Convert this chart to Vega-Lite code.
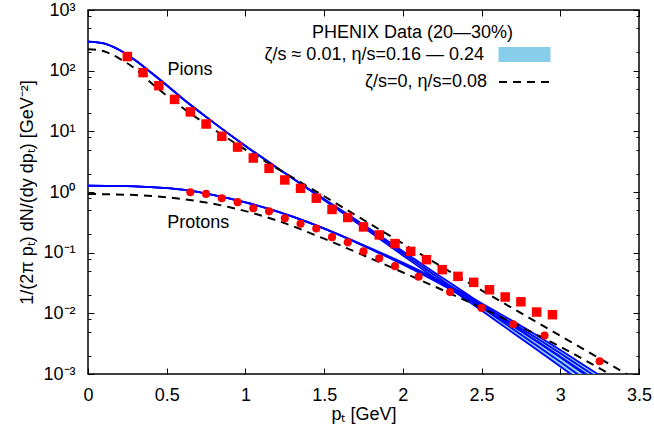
{
  "$schema": "https://vega.github.io/schema/vega-lite/v6.json",
  "width": 551,
  "height": 364,
  "autosize": {"type": "none"},
  "padding": {"left": 88, "top": 10, "right": 15, "bottom": 61},
  "background": "white",
  "datasets": {
    "band": [
      {"species": "Pions", "pT": 0.0, "lo": 302, "mid": 302, "hi": 302},
      {"species": "Pions", "pT": 0.1, "lo": 282, "mid": 282, "hi": 282},
      {"species": "Pions", "pT": 0.2, "lo": 219, "mid": 219, "hi": 219},
      {"species": "Pions", "pT": 0.3, "lo": 148, "mid": 148, "hi": 148},
      {"species": "Pions", "pT": 0.4, "lo": 93.3, "mid": 93.3, "hi": 93.3},
      {"species": "Pions", "pT": 0.5, "lo": 57.5, "mid": 57.5, "hi": 57.5},
      {"species": "Pions", "pT": 0.6, "lo": 34.7, "mid": 34.7, "hi": 34.7},
      {"species": "Pions", "pT": 0.8, "lo": 13.8, "mid": 13.8, "hi": 13.8},
      {"species": "Pions", "pT": 1.0, "lo": 5.75, "mid": 5.75, "hi": 5.75},
      {"species": "Pions", "pT": 1.2, "lo": 2.51, "mid": 2.51, "hi": 2.51},
      {"species": "Pions", "pT": 1.4, "lo": 1.109, "mid": 1.122, "hi": 1.135},
      {"species": "Pions", "pT": 1.6, "lo": 0.4842, "mid": 0.5012, "hi": 0.5188},
      {"species": "Pions", "pT": 1.8, "lo": 0.2113, "mid": 0.2239, "hi": 0.2371},
      {"species": "Pions", "pT": 2.0, "lo": 0.09016, "mid": 0.09772, "hi": 0.1059},
      {"species": "Pions", "pT": 2.2, "lo": 0.03864, "mid": 0.04266, "hi": 0.0471},
      {"species": "Pions", "pT": 2.4, "lo": 0.01698, "mid": 0.01905, "hi": 0.02138},
      {"species": "Pions", "pT": 2.6, "lo": 0.007278, "mid": 0.008318, "hi": 0.009506},
      {"species": "Pions", "pT": 2.8, "lo": 0.003119, "mid": 0.003631, "hi": 0.004227},
      {"species": "Pions", "pT": 3.0, "lo": 0.001334, "mid": 0.001585, "hi": 0.001884},
      {"species": "Pions", "pT": 3.2, "lo": 0.000556, "mid": 0.000676, "hi": 0.000822},
      {"species": "Protons", "pT": 0.0, "lo": 1.274, "mid": 1.274, "hi": 1.274},
      {"species": "Protons", "pT": 0.2, "lo": 1.259, "mid": 1.259, "hi": 1.259},
      {"species": "Protons", "pT": 0.4, "lo": 1.202, "mid": 1.202, "hi": 1.202},
      {"species": "Protons", "pT": 0.6, "lo": 1.096, "mid": 1.096, "hi": 1.096},
      {"species": "Protons", "pT": 0.8, "lo": 0.891, "mid": 0.891, "hi": 0.891},
      {"species": "Protons", "pT": 1.0, "lo": 0.676, "mid": 0.676, "hi": 0.676},
      {"species": "Protons", "pT": 1.2, "lo": 0.479, "mid": 0.479, "hi": 0.479},
      {"species": "Protons", "pT": 1.4, "lo": 0.316, "mid": 0.316, "hi": 0.316},
      {"species": "Protons", "pT": 1.6, "lo": 0.195, "mid": 0.195, "hi": 0.195},
      {"species": "Protons", "pT": 1.8, "lo": 0.1127, "mid": 0.1148, "hi": 0.1169},
      {"species": "Protons", "pT": 2.0, "lo": 0.0638, "mid": 0.0661, "hi": 0.0684},
      {"species": "Protons", "pT": 2.2, "lo": 0.0345, "mid": 0.0363, "hi": 0.0382},
      {"species": "Protons", "pT": 2.4, "lo": 0.01778, "mid": 0.01905, "hi": 0.02042},
      {"species": "Protons", "pT": 2.6, "lo": 0.00875, "mid": 0.00955, "hi": 0.01042},
      {"species": "Protons", "pT": 2.8, "lo": 0.00421, "mid": 0.00468, "hi": 0.0052},
      {"species": "Protons", "pT": 3.0, "lo": 0.00193, "mid": 0.00219, "hi": 0.00248},
      {"species": "Protons", "pT": 3.2, "lo": 0.000865, "mid": 0.001, "hi": 0.001156},
      {"species": "Protons", "pT": 3.4, "lo": 0.00038, "mid": 0.000447, "hi": 0.000525}
    ],
    "ideal": [
      {"species": "Pions", "pT": 0.0, "v": 226.5},
      {"species": "Pions", "pT": 0.1, "v": 208.9},
      {"species": "Pions", "pT": 0.2, "v": 158.5},
      {"species": "Pions", "pT": 0.3, "v": 107.2},
      {"species": "Pions", "pT": 0.4, "v": 63.1},
      {"species": "Pions", "pT": 0.6, "v": 24.5},
      {"species": "Pions", "pT": 0.8, "v": 10.72},
      {"species": "Pions", "pT": 1.0, "v": 5.01},
      {"species": "Pions", "pT": 1.2, "v": 2.455},
      {"species": "Pions", "pT": 1.5, "v": 0.851},
      {"species": "Pions", "pT": 2.0, "v": 0.1413},
      {"species": "Pions", "pT": 2.5, "v": 0.02399},
      {"species": "Pions", "pT": 3.0, "v": 0.004266},
      {"species": "Pions", "pT": 3.5, "v": 0.000759},
      {"species": "Protons", "pT": 0.0, "v": 0.927},
      {"species": "Protons", "pT": 0.3, "v": 0.891},
      {"species": "Protons", "pT": 0.6, "v": 0.767},
      {"species": "Protons", "pT": 0.9, "v": 0.562},
      {"species": "Protons", "pT": 1.2, "v": 0.339},
      {"species": "Protons", "pT": 1.5, "v": 0.170},
      {"species": "Protons", "pT": 1.8, "v": 0.0794},
      {"species": "Protons", "pT": 2.1, "v": 0.0363},
      {"species": "Protons", "pT": 2.4, "v": 0.0162},
      {"species": "Protons", "pT": 2.7, "v": 0.00692},
      {"species": "Protons", "pT": 3.0, "v": 0.00282},
      {"species": "Protons", "pT": 3.3, "v": 0.001047},
      {"species": "Protons", "pT": 3.5, "v": 0.000537}
    ],
    "phenix": [
      {"species": "Pions", "pT": 0.25, "v": 171},
      {"species": "Pions", "pT": 0.35, "v": 93},
      {"species": "Pions", "pT": 0.45, "v": 56.6},
      {"species": "Pions", "pT": 0.55, "v": 33.6},
      {"species": "Pions", "pT": 0.65, "v": 20.9},
      {"species": "Pions", "pT": 0.75, "v": 13.2},
      {"species": "Pions", "pT": 0.85, "v": 8.3},
      {"species": "Pions", "pT": 0.95, "v": 5.5},
      {"species": "Pions", "pT": 1.05, "v": 3.63},
      {"species": "Pions", "pT": 1.15, "v": 2.45},
      {"species": "Pions", "pT": 1.25, "v": 1.58},
      {"species": "Pions", "pT": 1.35, "v": 1.15},
      {"species": "Pions", "pT": 1.45, "v": 0.79},
      {"species": "Pions", "pT": 1.55, "v": 0.516},
      {"species": "Pions", "pT": 1.65, "v": 0.38},
      {"species": "Pions", "pT": 1.75, "v": 0.266},
      {"species": "Pions", "pT": 1.85, "v": 0.196},
      {"species": "Pions", "pT": 1.95, "v": 0.141},
      {"species": "Pions", "pT": 2.05, "v": 0.105},
      {"species": "Pions", "pT": 2.15, "v": 0.0766},
      {"species": "Pions", "pT": 2.25, "v": 0.0525},
      {"species": "Pions", "pT": 2.35, "v": 0.0407},
      {"species": "Pions", "pT": 2.45, "v": 0.0324},
      {"species": "Pions", "pT": 2.55, "v": 0.0245},
      {"species": "Pions", "pT": 2.65, "v": 0.0186},
      {"species": "Pions", "pT": 2.75, "v": 0.0155},
      {"species": "Pions", "pT": 2.85, "v": 0.0105},
      {"species": "Pions", "pT": 2.95, "v": 0.0095},
      {"species": "Protons", "pT": 0.65, "v": 0.99},
      {"species": "Protons", "pT": 0.75, "v": 0.93},
      {"species": "Protons", "pT": 0.85, "v": 0.79},
      {"species": "Protons", "pT": 0.95, "v": 0.68},
      {"species": "Protons", "pT": 1.05, "v": 0.54},
      {"species": "Protons", "pT": 1.15, "v": 0.48},
      {"species": "Protons", "pT": 1.25, "v": 0.37},
      {"species": "Protons", "pT": 1.35, "v": 0.30},
      {"species": "Protons", "pT": 1.45, "v": 0.25},
      {"species": "Protons", "pT": 1.55, "v": 0.18},
      {"species": "Protons", "pT": 1.65, "v": 0.148},
      {"species": "Protons", "pT": 1.75, "v": 0.105},
      {"species": "Protons", "pT": 1.85, "v": 0.081},
      {"species": "Protons", "pT": 1.95, "v": 0.060},
      {"species": "Protons", "pT": 2.1, "v": 0.040},
      {"species": "Protons", "pT": 2.3, "v": 0.0224},
      {"species": "Protons", "pT": 2.5, "v": 0.0123},
      {"species": "Protons", "pT": 2.7, "v": 0.0066},
      {"species": "Protons", "pT": 2.9, "v": 0.0043},
      {"species": "Protons", "pT": 3.25, "v": 0.00162}
    ],
    "notes": [
      {"pT": 0.648, "v": 102, "label": "Pions"},
      {"pT": 0.70, "v": 0.308, "label": "Protons"}
    ]
  },
  "layer": [
    {
      "data": {"name": "band"},
      "mark": {"type": "area", "interpolate": "monotone", "clip": true, "opacity": 1, "fill": "#87ceeb", "strokeWidth": 1},
      "encoding": {
        "x": {"field": "pT", "type": "quantitative", "scale": {"domain": [0, 3.5], "nice": false},
          "axis": {"orient": "bottom", "values": [0, 0.5, 1, 1.5, 2, 2.5, 3, 3.5], "labelExpr": "format(datum.value, '~g')", "tickSize": -6, "labelPadding": 18, "title": "pₜ [GeV]", "titlePadding": 1, "domain": false, "grid": false, "labelFlush": false}},
        "y": {"field": "lo", "type": "quantitative", "scale": {"type": "log", "domain": [0.001, 1000], "nice": false},
          "axis": {"orient": "left", "values": [0.001, 0.002, 0.005, 0.008, 0.01, 0.02, 0.05, 0.08, 0.1, 0.2, 0.5, 0.8, 1, 2, 5, 8, 10, 20, 50, 80, 100, 200, 500, 800, 1000],
            "labelExpr": "datum.value==1000?'10³':datum.value==100?'10²':datum.value==10?'10¹':datum.value==1?'10⁰':datum.value==0.1?'10⁻¹':datum.value==0.01?'10⁻²':datum.value==0.001?'10⁻³':''",
            "tickSize": {"condition": {"test": "indexof([0.001,0.01,0.1,1,10,100,1000], datum.value) >= 0", "value": -6}, "value": -3},
            "labelPadding": 19, "title": "1/(2π pₜ) dN/(dy dpₜ) [GeV⁻²]", "titlePadding": 6, "domain": false, "grid": false, "labelFlush": false, "labelOverlap": false}},
        "y2": {"field": "hi"},
        "detail": {"field": "species"},
        "stroke": {"datum": "ζ/s ≈ 0.01, η/s=0.16 — 0.24", "type": "nominal", "scale": {"range": ["#87ceeb"]},
          "legend": {"title": null, "orient": "none", "legendX": 403, "legendY": 11,
            "symbolType": "stroke", "symbolSize": 2704, "symbolStrokeWidth": 15, "symbolOpacity": 1,
            "labelAlign": "right", "labelOffset": -74, "labelLimit": 400, "padding": 0}}
      }
    },
    {
      "data": {"name": "band"},
      "mark": {"type": "line", "interpolate": "monotone", "clip": true, "color": "#0000ff", "strokeWidth": 1.8},
      "encoding": {
        "x": {"field": "pT", "type": "quantitative", "axis": {"orient": "top", "values": [0, 0.5, 1, 1.5, 2, 2.5, 3, 3.5], "labels": false, "tickSize": -6, "title": null, "domain": false, "grid": false}},
        "y": {"field": "lo", "type": "quantitative",
          "axis": {"orient": "right", "values": [0.001, 0.002, 0.005, 0.008, 0.01, 0.02, 0.05, 0.08, 0.1, 0.2, 0.5, 0.8, 1, 2, 5, 8, 10, 20, 50, 80, 100, 200, 500, 800, 1000], "labels": false,
            "tickSize": {"condition": {"test": "indexof([0.001,0.01,0.1,1,10,100,1000], datum.value) >= 0", "value": -6}, "value": -3},
            "title": null, "domain": false, "grid": false}},
        "detail": {"field": "species"}
      }
    },
    {
      "data": {"name": "band"},
      "mark": {"type": "line", "interpolate": "monotone", "clip": true, "color": "#0000ff", "strokeWidth": 1.8},
      "encoding": {
        "x": {"field": "pT", "type": "quantitative", "axis": null},
        "y": {"field": "mid", "type": "quantitative", "axis": null},
        "detail": {"field": "species"}
      }
    },
    {
      "data": {"name": "band"},
      "mark": {"type": "line", "interpolate": "monotone", "clip": true, "color": "#0000ff", "strokeWidth": 1.8},
      "encoding": {
        "x": {"field": "pT", "type": "quantitative", "axis": null},
        "y": {"field": "hi", "type": "quantitative", "axis": null},
        "detail": {"field": "species"}
      }
    },
    {
      "data": {"name": "ideal"},
      "mark": {"type": "line", "interpolate": "monotone", "clip": true, "color": "black", "strokeWidth": 2},
      "encoding": {
        "x": {"field": "pT", "type": "quantitative", "axis": null},
        "y": {"field": "v", "type": "quantitative", "axis": null},
        "detail": {"field": "species"},
        "strokeDash": {"datum": "ζ/s=0, η/s=0.08", "type": "nominal", "scale": {"range": [[8, 6]]},
          "legend": {"title": null, "orient": "none", "legendX": 410, "legendY": 45,
            "symbolType": "stroke", "symbolSize": 2704, "symbolStrokeColor": "black", "symbolStrokeWidth": 2,
            "labelAlign": "right", "labelOffset": -65, "labelLimit": 400, "padding": 0}}
      }
    },
    {
      "data": {"name": "phenix"},
      "mark": {"type": "point", "filled": true, "opacity": 1, "clip": true},
      "encoding": {
        "x": {"field": "pT", "type": "quantitative", "axis": null},
        "y": {"field": "v", "type": "quantitative", "axis": null},
        "color": {"datum": "PHENIX Data (20—30%)", "type": "nominal", "scale": {"range": ["#ff0000"]},
          "legend": {"title": null, "orient": "none", "legendX": 410, "legendY": -3,
            "symbolType": "stroke", "symbolSize": 2704, "symbolOpacity": 0, "symbolStrokeWidth": 0,
            "labelAlign": "right", "labelOffset": -37, "labelLimit": 400, "padding": 0}},
        "shape": {"field": "species", "type": "nominal", "scale": {"domain": ["Pions", "Protons"], "range": ["square", "circle"]}, "legend": null},
        "size": {"field": "species", "type": "nominal", "scale": {"domain": ["Pions", "Protons"], "range": [90, 66]}, "legend": null}
      }
    },
    {
      "data": {"name": "notes"},
      "mark": {"type": "text", "fontSize": 18, "color": "black", "align": "center", "baseline": "middle"},
      "encoding": {
        "x": {"field": "pT", "type": "quantitative", "axis": null},
        "y": {"field": "v", "type": "quantitative", "axis": null},
        "text": {"field": "label"}
      }
    }
  ],
  "resolve": {"axis": {"x": "independent", "y": "independent"}},
  "config": {
    "font": "Liberation Sans",
    "view": {"stroke": "black", "strokeWidth": 1.5},
    "axis": {"labelFontSize": 18, "titleFontSize": 18, "titleFontWeight": "normal", "labelColor": "black", "titleColor": "black", "tickColor": "black", "tickWidth": 1},
    "legend": {"labelFontSize": 18, "titleFontSize": 18, "titleFontWeight": "normal", "labelColor": "black", "titleColor": "black"},
    "text": {"font": "Liberation Sans"}
  }
}
